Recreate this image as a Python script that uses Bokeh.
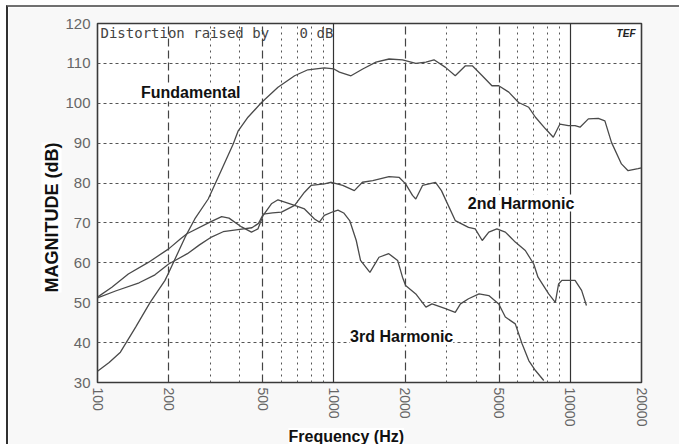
from bokeh.plotting import figure
from bokeh.models import FixedTicker, PrintfTickFormatter, Grid, Label, Title
from bokeh.embed import file_html
from bokeh.resources import INLINE

# ---------------- data ----------------
fund_f = [100, 112, 125, 145, 167, 193, 200, 235, 258, 294, 330, 375, 393, 433, 494,
          580, 682, 776, 911, 1000, 1055, 1181, 1324, 1506, 1712, 1950, 2220, 2450,
          2650, 2965, 3260, 3600, 3850, 4240, 4660, 4980, 5490, 6040, 6670, 7120,
          7850, 8470, 9040, 9810, 10470, 10990, 11920, 13130, 14000, 14930, 16450,
          17550, 19330, 20000]
fund_db = [32.8, 35.0, 37.6, 43.9, 50.1, 55.6, 57.5, 66.5, 71.0, 76.0, 82.5, 89.8, 93.0,
           96.5, 100.2, 104.0, 106.9, 108.4, 108.9, 108.6, 107.8, 106.9, 108.6, 110.3,
           111.1, 110.9, 110.0, 110.3, 110.9, 109.0, 106.9, 109.4, 109.4, 106.9, 104.4,
           104.4, 102.8, 100.2, 99.0, 96.5, 93.6, 91.5, 94.8, 94.4, 94.4, 94.0, 96.1,
           96.2, 95.6, 90.2, 84.8, 83.1, 83.6, 83.8]

h2_f = [100, 120, 150, 175, 200, 240, 270, 300, 340, 400, 450, 480, 502, 550, 600,
        682, 751, 800, 911, 975, 1090, 1220, 1320, 1460, 1710, 1890, 2010, 2150, 2220,
        2370, 2690, 2850, 2980, 3260, 3710, 3960, 4240, 4520, 4890, 5310, 5850, 6450,
        7000, 7300, 8100, 8640, 8920, 9210, 10470, 11160, 11700]
h2_db = [51.2, 53.0, 55.0, 57.0, 59.7, 62.3, 64.5, 66.3, 67.8, 68.4, 68.8, 69.9, 72.2,
         72.5, 72.7, 74.4, 77.7, 79.4, 79.8, 80.2, 79.4, 78.1, 80.2, 80.6, 81.6, 81.4,
         79.8, 76.9, 76.0, 79.4, 80.2, 78.1, 75.6, 70.6, 68.9, 68.5, 65.6, 67.7, 68.5,
         67.7, 65.2, 63.1, 59.7, 56.4, 52.2, 50.1, 54.7, 55.6, 55.6, 53.1, 49.3]

h3_f = [100, 115, 135, 164, 200, 224, 239, 299, 335, 360, 407, 448, 477, 502, 544,
        580, 682, 751, 828, 868, 911, 990, 1040, 1100, 1166, 1243, 1296, 1420, 1551,
        1706, 1860, 1950, 2010, 2220, 2450, 2600, 2965, 3260, 3430, 3710, 4110, 4520,
        4980, 5310, 5850, 6250, 6670, 7120, 7720]
h3_db = [51.4, 53.9, 57.2, 60.1, 63.5, 66.0, 67.3, 70.2, 71.6, 71.2, 69.0, 67.7, 68.5,
         71.9, 74.8, 75.8, 74.4, 73.5, 71.0, 70.2, 71.9, 72.8, 73.2, 72.5, 70.6, 65.6,
         60.6, 57.6, 61.4, 62.3, 60.6, 56.4, 54.3, 52.2, 48.9, 49.7, 48.5, 47.6, 49.7,
         51.0, 52.2, 51.8, 49.7, 46.4, 44.7, 39.7, 35.5, 33.0, 30.5]

x_ticks = [100, 200, 500, 1000, 2000, 5000, 10000, 20000]
y_ticks = [30, 40, 50, 60, 70, 80, 90, 100, 110, 120]
solid_vlines = [1000, 10000]
dashed_vlines = [200, 500, 2000, 5000]
dotted_vlines = [300, 400, 600, 700, 800, 900, 3000, 4000, 6000, 7000, 8000, 9000]
hlines = [40, 50, 60, 70, 80, 90, 100, 110]

# ---------------- figure ----------------
p = figure(width=673, height=439, x_axis_type="log", x_range=(100, 20000),
           y_range=(30, 120), output_backend="svg", toolbar_location=None,
           title=None, min_border_left=89, min_border_right=40,
           min_border_top=16, min_border_bottom=64)
p.background_fill_color = "#ffffff"
p.border_fill_color = "#f8f8f8"
p.outline_line_color = "#3a3a3a"
p.outline_line_width = 1.6

p.xgrid.visible = False
p.ygrid.visible = False

for ax in (p.xaxis[0], p.yaxis[0]):
    ax.axis_line_color = None
    ax.major_tick_line_color = None
    ax.minor_tick_line_color = None
    ax.major_tick_out = 0
    ax.major_tick_in = 0
    ax.minor_tick_out = 0
    ax.minor_tick_in = 0
    ax.major_label_text_color = "#666666"
    ax.major_label_text_font = "Liberation Sans"

p.xaxis.ticker = FixedTicker(ticks=x_ticks, minor_ticks=[])
p.xaxis.formatter = PrintfTickFormatter(format="%d")
p.xaxis.major_label_orientation = "vertical"
p.xaxis.major_label_text_font_size = "14px"
p.xaxis.major_label_standoff = 5

p.yaxis.ticker = FixedTicker(ticks=y_ticks, minor_ticks=[])
p.yaxis.major_label_text_font_size = "15px"
p.yaxis.major_label_standoff = 7

p.add_layout(Grid(dimension=1, ticker=FixedTicker(ticks=hlines),
                  grid_line_color="#555555", grid_line_dash="3 3", grid_line_width=1))
p.add_layout(Grid(dimension=0, ticker=FixedTicker(ticks=dotted_vlines),
                  grid_line_color="#555555", grid_line_dash="2 4", grid_line_width=1))
p.add_layout(Grid(dimension=0, ticker=FixedTicker(ticks=dashed_vlines),
                  grid_line_color="#444444", grid_line_dash="8 4", grid_line_width=1.2))
p.add_layout(Grid(dimension=0, ticker=FixedTicker(ticks=solid_vlines),
                  grid_line_color="#333333", grid_line_width=1.2))

curve_color = "#4a4a4a"
p.line(fund_f, fund_db, line_color=curve_color, line_width=1.3)
p.line(h2_f, h2_db, line_color=curve_color, line_width=1.3)
p.line(h3_f, h3_db, line_color=curve_color, line_width=1.3)

bold = dict(text_font="Liberation Sans", text_font_style="bold",
            text_color="#111111", text_align="center", text_baseline="middle",
            background_fill_color="#ffffff")
p.add_layout(Label(x=248, y=102.6, text="Fundamental", text_font_size="16px", **bold))
p.add_layout(Label(x=6190, y=75.0, text="2nd Harmonic", text_font_size="16px", **bold))
p.add_layout(Label(x=1935, y=41.6, text="3rd Harmonic", text_font_size="16px", **bold))

# axis titles (as titles beside the axes, shifted to match the reference)
title_style = dict(text_font="Liberation Sans", text_font_style="bold",
                   text_color="#111111", background_fill_color="#ffffff",
                   align="left")
p.add_layout(Title(text="Frequency (Hz)", offset=191, standoff=-3,
                   vertical_align="top", text_font_size="16px", **title_style), "below")
p.add_layout(Title(text="MAGNITUDE (dB)", offset=90, standoff=0,
                   vertical_align="middle", text_font_size="18px", **title_style), "left")

mono = dict(text_font="DejaVu Sans Mono", text_font_size="14px",
            text_color="#444444", text_baseline="top")
p.add_layout(Label(x=100, y=120, x_offset=3, y_offset=-1,
                   text="Distortion raised by", **mono))
p.add_layout(Label(x=716, y=120, y_offset=-1, text="0 dB", **mono))
p.add_layout(Label(x=20000, y=120, x_offset=-6, y_offset=-4, text="TEF",
                   text_font="Liberation Sans", text_font_style="bold italic",
                   text_font_size="10px", text_color="#222222",
                   text_align="right", text_baseline="top"))

p.styles = {"margin-left": "6px", "margin-top": "5px",
            "border-top": "2px solid #707070", "border-left": "2px solid #303030"}

open("out.html", "w").write(file_html(p, INLINE))
